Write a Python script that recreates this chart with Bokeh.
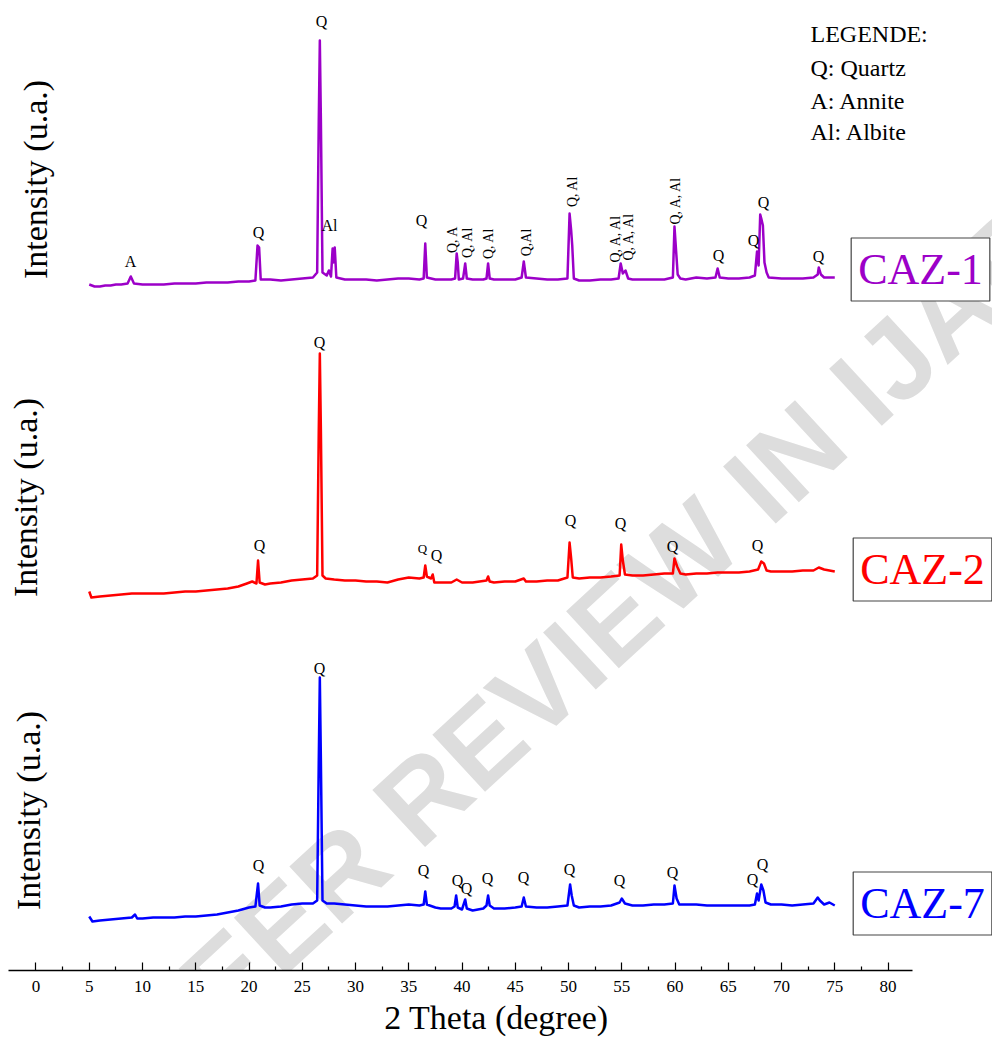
import numpy as np
from bokeh.plotting import figure
from bokeh.models import Range1d, Label, FixedTicker
from bokeh.core.properties import value
from bokeh.embed import file_html
from bokeh.resources import INLINE

# ---------------- data (2 theta in degree, intensity in a.u.) ----------------
caz1_theta = [5.0, 5.5, 6.0, 6.5, 7.0, 7.5, 8.0, 8.6, 8.9, 9.2, 10, 11, 12, 13, 14, 15, 16, 17, 18, 19, 20,
              20.6, 20.8, 20.95, 21.1, 22, 23, 24, 25, 26, 26.4, 26.55, 26.65, 26.75, 26.9, 27.3, 27.5, 27.7,
              27.85, 27.95, 28.05, 28.2, 29, 30, 31, 32, 33, 34, 35, 36, 36.4, 36.55, 36.7, 37.5, 38, 39, 39.35,
              39.5, 39.6, 39.7, 40.1, 40.3, 40.45, 41, 42, 42.3, 42.45, 42.6, 43, 44, 45, 45.6, 45.8, 46, 47, 48,
              49, 49.9, 50.1, 50.25, 50.35, 50.5, 51, 52, 53, 54, 54.7, 54.9, 55.1, 55.35, 55.6, 56, 57, 58, 59,
              59.8, 59.95, 60.1, 60.25, 60.5, 61, 62, 63, 63.8, 64.0, 64.2, 65, 66, 67, 67.5, 67.7, 67.85, 68.0,
              68.1, 68.25, 68.4, 68.6, 68.8, 70, 71, 72, 73, 73.4, 73.5, 73.7, 74, 75]
caz1_int = [6, 4, 4, 5, 5, 6, 6, 7, 14, 7, 6, 6, 6, 7, 7, 7, 8, 8, 8, 9, 9,
            10, 45, 43, 11, 11, 10, 11, 12, 13, 18, 170, 250, 170, 18, 15, 20, 14,
            42, 28, 43, 13, 11, 11, 11, 10, 11, 12, 12, 11, 12, 47, 13, 11, 11, 11, 12,
            37, 28, 11, 12, 27, 12, 11, 11, 12, 27, 12, 11, 11, 11, 13, 29, 13, 12, 11,
            11, 12, 77, 60, 45, 12, 10, 10, 11, 11, 12, 27, 17, 20, 12, 11, 11, 11, 11,
            13, 64, 40, 16, 12, 11, 13, 12, 13, 22, 13, 12, 12, 13, 15, 39, 25, 76,
            72, 65, 28, 18, 13, 12, 12, 12, 13, 16, 23, 16, 13, 13]

caz2_theta = [5.0, 5.2, 6, 7, 8, 9, 10, 11, 12, 13, 14, 15, 16, 17, 18, 19, 19.8, 20.3, 20.7, 20.85, 21.0,
              21.5, 22, 23, 24, 25, 26, 26.4, 26.55, 26.65, 26.75, 26.9, 27.2, 28, 29, 30, 31, 32, 33, 34, 35,
              36, 36.4, 36.55, 36.7, 37.1, 37.25, 37.4, 38, 39, 39.5, 40, 41, 42.3, 42.45, 42.6, 43, 44, 45,
              45.8, 46, 47, 48, 49, 49.9, 50.1, 50.25, 50.4, 51, 52, 53, 54, 54.8, 54.95, 55.1, 55.3, 56, 57,
              58, 59, 59.8, 59.95, 60.2, 60.5, 61, 62, 63, 64, 65, 66, 67, 67.8, 68.1, 68.35, 68.6, 69, 70, 71,
              72, 73, 73.5, 74, 74.5, 75]
caz2_int = [9, 3, 4, 5, 6, 7, 7, 7, 7, 8, 9, 9, 10, 11, 12, 14, 17, 19, 17, 40, 18,
            16, 17, 18, 20, 21, 22, 25, 170, 247, 170, 25, 22, 21, 20, 20, 19, 19, 18, 21, 23,
            22, 23, 35, 24, 22, 26, 18, 18, 18, 21, 18, 18, 20, 24, 19, 18, 19, 19,
            22, 19, 19, 20, 20, 23, 58, 42, 23, 22, 23, 23, 24, 25, 56, 40, 26, 25, 25,
            26, 27, 27, 42, 34, 27, 26, 27, 27, 28, 28, 28, 29, 31, 39, 37, 30, 29, 29, 29,
            30, 30, 33, 31, 30, 29]

caz7_theta = [5.0, 5.3, 6, 7, 8, 9, 9.3, 9.5, 10, 11, 12, 13, 14, 15, 16, 17, 18, 19, 20, 20.6, 20.85, 21.0,
              21.5, 22, 23, 24, 25, 26, 26.4, 26.55, 26.65, 26.75, 26.9, 27.3, 28, 29, 30, 31, 32, 33, 34, 35,
              36, 36.4, 36.55, 36.7, 37.5, 38, 39, 39.3, 39.45, 39.6, 40, 40.3, 40.45, 41, 42, 42.3, 42.45, 42.6,
              43, 44, 45, 45.6, 45.8, 46, 47, 48, 49, 49.9, 50.15, 50.3, 50.5, 51, 52, 53, 54, 54.8, 55.0, 55.3,
              56, 57, 58, 59, 59.8, 59.95, 60.15, 60.4, 61, 62, 63, 64, 65, 66, 67, 67.5, 67.7, 67.85, 68.1,
              68.3, 68.5, 69, 70, 71, 72, 73, 73.4, 73.6, 74, 74.5, 75]
caz7_int = [9, 4, 5, 6, 7, 8, 11, 7, 7, 8, 8, 8, 9, 9, 10, 11, 13, 15, 18, 19, 42, 20,
            18, 18, 19, 21, 22, 22, 25, 165, 248, 165, 25, 22, 22, 21, 20, 19, 19, 19, 20, 21,
            20, 21, 34, 21, 18, 17, 17, 19, 30, 18, 16, 26, 17, 15, 17, 20, 30, 20,
            17, 17, 18, 19, 28, 19, 18, 18, 19, 20, 41, 30, 20, 18, 19, 19, 20, 23, 27, 22,
            20, 20, 21, 21, 22, 40, 27, 21, 21, 21, 20, 20, 20, 20, 20, 21, 32, 25, 41,
            35, 23, 21, 21, 20, 21, 22, 28, 25, 21, 23, 20]

# vertical stacking offsets of the three patterns
offsets = {"CAZ-1": 680, "CAZ-2": 370, "CAZ-7": 45}
colors = {"CAZ-1": "#9C00C8", "CAZ-2": "#FF0000", "CAZ-7": "#0000FF"}

# phase labels: (2theta position, label height in a.u. incl. offset, text)
caz1_lab_x = [8.87, 20.89, 26.81, 27.56, 36.2, 64.08, 67.37, 68.3, 73.47]
caz1_lab_y = [709, 738, 949, 745, 750, 715, 730, 768, 714]
caz1_lab_t = ["A", "Q", "Q", "Al", "Q", "Q", "Q", "Q", "Q"]
caz1_rot_x = [39.1, 40.5, 42.5, 46.06, 50.38, 54.41, 55.63, 60.05]
caz1_rot_y = [731, 728, 727, 728, 779, 732, 734, 770]
caz1_rot_t = ["Q, A", "Q, Al", "Q, Al", "Q,Al", "Q, Al", "Q, A, Al", "Q, A, Al", "Q, A, Al"]

caz2_lab_x = [20.99, 26.62, 37.6, 50.19, 54.88, 59.77, 67.75]
caz2_lab_y = [425, 628, 415, 450, 447, 424, 425]
caz2_small_x = [36.29]
caz2_small_y = [422]

caz7_lab_x = [20.89, 26.62, 36.38, 39.58, 40.42, 42.39, 45.77, 50.09, 54.79, 59.77, 67.28, 68.22]
caz7_lab_y = [105, 302, 100, 90, 82, 92, 93, 101, 90, 98, 91, 106]

legend_lines = ["LEGENDE:", "Q: Quartz", "A: Annite", "Al: Albite"]
legend_y = [937, 903, 870, 839]

xticks = list(range(0, 85, 5))
xminor = [t + 2.5 for t in range(0, 80, 5)]

SERIF = "Liberation Serif"

p = figure(width=992, height=1044, output_backend="svg", toolbar_location=None,
           x_range=Range1d(-3.333, 89.81), y_range=Range1d(0, 970),
           y_axis_location=None, min_border_left=0, min_border_right=0,
           min_border_top=0, min_border_bottom=74)
p.outline_line_color = None
p.grid.visible = False
p.background_fill_color = "white"

# watermark
p.text(x=[52.16], y=[330], text=["PEER REVIEW IN IJAR"], angle=0.745,
       text_font=value("Liberation Sans"), text_font_size="113px", text_font_style="bold",
       text_color="#DDDDDD", text_align="center", text_baseline="middle")

for name, th, it in [("CAZ-1", caz1_theta, caz1_int), ("CAZ-2", caz2_theta, caz2_int),
                     ("CAZ-7", caz7_theta, caz7_int)]:
    yy = [v + offsets[name] for v in it]
    p.line(th, yy, line_color=colors[name], line_width=2.5, line_join="round")

# peak labels
def labels(xs, ys, ts, size="16px", angle=0.0):
    p.text(x=xs, y=ys, text=ts, angle=angle, text_font=value(SERIF), text_font_size=size,
           text_color="black", text_align="center", text_baseline="middle")

labels(caz1_lab_x, caz1_lab_y, caz1_lab_t)
labels(caz1_rot_x, caz1_rot_y, caz1_rot_t, size="14px", angle=np.pi / 2)
labels(caz2_lab_x, caz2_lab_y, ["Q"] * len(caz2_lab_x))
labels(caz2_small_x, caz2_small_y, ["Q"], size="13px")
labels(caz7_lab_x, caz7_lab_y, ["Q"] * len(caz7_lab_x))

# legend text
p.text(x=[72.72] * 4, y=legend_y, text=legend_lines, text_font=value(SERIF),
       text_font_size="24px", text_color="black", text_align="left", text_baseline="middle")

# y labels
ylab_x = [0.0, -1.0, -0.7]
ylab_y = [791, 473, 160]
p.text(x=ylab_x, y=ylab_y, text=["Intensity (u.a.)"] * 3, angle=np.pi / 2,
       text_font=value(SERIF), text_font_size="34px", text_color="black",
       text_align="center", text_baseline="middle")

# sample boxes
box_pos = {"CAZ-1": (83.05, 701), "CAZ-2": (83.24, 401), "CAZ-7": (83.24, 67)}
for name, (bx, by) in box_pos.items():
    p.add_layout(Label(x=bx, y=by, text=name, text_font=SERIF, text_font_size="44px",
                       text_color=colors[name], text_align="center", text_baseline="middle",
                       border_line_color="#444444", border_line_width=1.2,
                       background_fill_color="white", padding=7))

ax = p.xaxis[0]
ax.ticker = FixedTicker(ticks=xticks, minor_ticks=xminor)
ax.bounds = (-2.6, 82.3)
ax.axis_line_width = 1.5
ax.axis_line_color = "black"
ax.major_tick_in = 8
ax.major_tick_out = 0
ax.minor_tick_in = 4
ax.minor_tick_out = 0
ax.major_tick_line_width = 1.2
ax.minor_tick_line_width = 1.2
ax.major_label_text_font = SERIF
ax.major_label_text_font_size = "17px"
ax.major_label_text_color = "black"
ax.major_label_standoff = 10
ax.axis_label = "2 Theta (degree)"
ax.axis_label_text_font = SERIF
ax.axis_label_text_font_size = "34px"
ax.axis_label_text_font_style = "normal"
ax.axis_label_text_color = "black"
ax.axis_label_standoff = 4

open("out.html", "w").write(file_html(p, INLINE))
